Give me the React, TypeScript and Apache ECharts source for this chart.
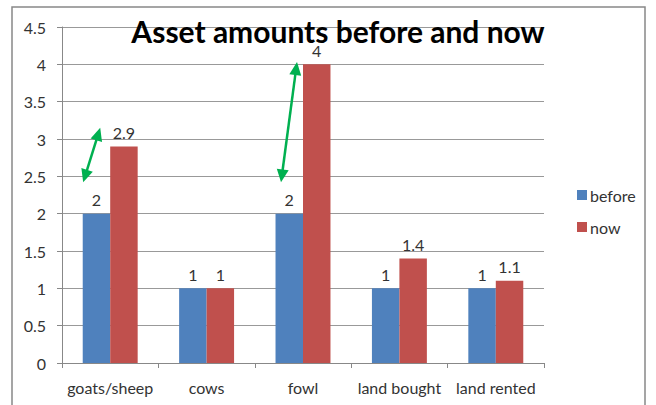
import React, { useEffect, useRef } from "react";
import * as echarts from "echarts";

const categories = ["goats/sheep", "cows", "fowl", "land bought", "land rented"];
const before = [2, 1, 2, 1, 1];
const now = [2.9, 1, 4, 1.4, 1.1];
const yTicks = { min: 0, max: 4.5, interval: 0.5 };
// annotation arrows: category index, value range, horizontal offsets from category centre
const arrowCats = [0, 2];
const arrowFrom = [2.42, 2.42];
const arrowTo = [3.15, 4.03];
const arrowDxFrom = [-27, -22];
const arrowDxTo = [-10, -6];

const FONT = "Lato, 'Open Sans', sans-serif";

function arrowShapes(x1: number, y1: number, x2: number, y2: number, color: string) {
  const dx = x2 - x1, dy = y2 - y1;
  const len = Math.sqrt(dx * dx + dy * dy);
  const ux = dx / len, uy = dy / len;
  const px = -uy, py = ux;
  const hl = 13, hw = 6;
  const head = (tx: number, ty: number, dir: number) => {
    const bx = tx - dir * ux * hl, by = ty - dir * uy * hl;
    return {
      type: "polygon",
      silent: true,
      z: 100,
      shape: { points: [[tx, ty], [bx + px * hw, by + py * hw], [bx - px * hw, by - py * hw]] },
      style: { fill: color },
    };
  };
  return [
    {
      type: "line",
      silent: true,
      z: 100,
      shape: { x1: x1 + ux * hl * 0.8, y1: y1 + uy * hl * 0.8, x2: x2 - ux * hl * 0.8, y2: y2 - uy * hl * 0.8 },
      style: { stroke: color, lineWidth: 2.5 },
    },
    head(x2, y2, 1),
    head(x1, y1, -1),
  ];
}

export default function App() {
  const ref = useRef<HTMLDivElement>(null);
  useEffect(() => {
    document.body.style.margin = "0";
    const chart = echarts.init(ref.current!, null, { renderer: "svg" });
    const labelStyle = {
      show: true,
      position: "top",
      distance: 6,
      color: "#333",
      fontSize: 16,
      fontFamily: FONT,
    };
    chart.setOption({
      animation: false,
      backgroundColor: "#fff",
      title: {
        text: "Asset amounts before and now",
        left: 333,
        textAlign: "center",
        top: 11,
        textStyle: { fontFamily: FONT, fontWeight: "bold", fontSize: 30, color: "#000" },
        z: 10,
      },
      legend: {
        orient: "vertical",
        left: 572,
        top: 182,
        itemWidth: 10,
        itemHeight: 10,
        itemGap: 16,
        icon: "rect",
        textStyle: { fontFamily: FONT, fontSize: 16, color: "#333", padding: [0, 0, 0, -2] },
        data: ["before", "now"],
      },
      grid: { left: 62, right: 112, top: 27, bottom: 42 },
      xAxis: {
        type: "category",
        data: categories,
        axisLine: { lineStyle: { color: "#888" } },
        axisTick: { show: true, length: 5, lineStyle: { color: "#888" } },
        axisLabel: { color: "#333", fontSize: 16, fontFamily: FONT, margin: 16, interval: 0 },
      },
      yAxis: {
        type: "value",
        min: yTicks.min,
        max: yTicks.max,
        interval: yTicks.interval,
        axisLine: { show: true, lineStyle: { color: "#888" } },
        axisTick: { show: true, length: 5, lineStyle: { color: "#888" } },
        axisLabel: { color: "#333", fontSize: 16, fontFamily: FONT, margin: 16 },
        splitLine: { lineStyle: { color: "#999" } },
      },
      series: [
        {
          name: "before",
          type: "bar",
          data: before,
          barGap: "0%",
          barCategoryGap: "43%",
          itemStyle: { color: "#4F81BD" },
          label: labelStyle,
        },
        {
          name: "now",
          type: "bar",
          data: now,
          itemStyle: { color: "#C0504D" },
          label: labelStyle,
        },
      ],
    });
    const elems: any[] = [
      {
        type: "rect",
        silent: true,
        shape: { x: 12, y: 7, width: 633, height: 420 },
        style: { fill: "none", stroke: "#888", lineWidth: 1.5 },
        z: -1,
      },
    ];
    arrowCats.forEach((c, i) => {
      const p1 = chart.convertToPixel({ xAxisIndex: 0, yAxisIndex: 0 }, [c, arrowFrom[i]]) as number[];
      const p2 = chart.convertToPixel({ xAxisIndex: 0, yAxisIndex: 0 }, [c, arrowTo[i]]) as number[];
      elems.push(...arrowShapes(p1[0] + arrowDxFrom[i], p1[1], p2[0] + arrowDxTo[i], p2[1], "#00B050"));
    });
    chart.setOption({ graphic: { elements: elems } });
    return () => chart.dispose();
  }, []);
  return <div ref={ref} style={{ width: 656, height: 405 }} />;
}
